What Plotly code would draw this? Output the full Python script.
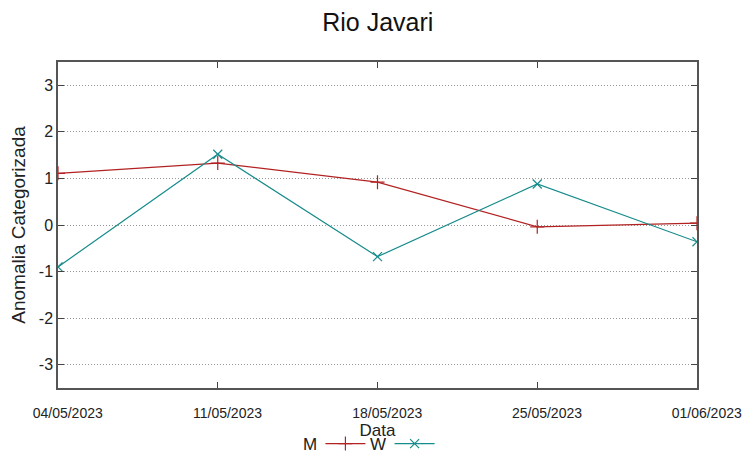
import plotly.graph_objects as go

dates = ["2023-05-04", "2023-05-11", "2023-05-18", "2023-05-25", "2023-06-01"]
tick_labels = ["04/05/2023", "11/05/2023", "18/05/2023", "25/05/2023", "01/06/2023"]
m_values = [1.11, 1.33, 0.92, -0.04, 0.04]
w_values = [-0.90, 1.52, -0.68, 0.88, -0.36]
y_ticks = [-3, -2, -1, 0, 1, 2, 3]
y_tick_labels = ["-3", "-2", "-1", "0", "1", "2", "3"]
series_names = ["M", "W"]

FONT = "Liberation Sans, Arial, sans-serif"
NB = "\u00a0"

fig = go.Figure()
fig.add_trace(go.Scatter(
    x=dates, y=m_values, name=series_names[0], mode="lines+markers",
    line=dict(color="#b22222", width=1.2),
    marker=dict(symbol="cross-thin", size=10, line=dict(color="#b22222", width=1.2)),
))
fig.add_trace(go.Scatter(
    x=dates, y=w_values, name=series_names[1], mode="lines+markers",
    line=dict(color="#168b8b", width=1.2),
    marker=dict(symbol="x-thin", size=9, line=dict(color="#168b8b", width=1.2)),
))

# gnuplot-style key: label text to the left of each sample line
for name, xpos in zip(series_names, [0.3936, 0.5008]):
    fig.add_annotation(text=name, xref="paper", yref="paper", x=xpos, y=-0.172,
                       xanchor="center", yanchor="middle", showarrow=False,
                       font=dict(size=17, family=FONT, color="#222222"))

fig.update_layout(
    width=744, height=450,
    margin=dict(l=50, r=55, t=54, b=70, autoexpand=False),
    paper_bgcolor="white", plot_bgcolor="white",
    font=dict(family=FONT, color="#222222"),
    title=dict(text="Rio Javari", x=0.497, xanchor="center", y=0.969, yanchor="middle",
               font=dict(size=25, family=FONT, color="#111111")),
    legend=dict(orientation="h", x=0.521, xanchor="center", y=-0.172, yanchor="middle",
                font=dict(size=17, family=FONT, color="rgba(0,0,0,0)"), itemwidth=40,
                bgcolor="rgba(0,0,0,0)", tracegroupgap=0),
    showlegend=True,
)

fig.update_xaxes(
    type="date", range=[dates[0], dates[-1]],
    tickvals=dates, ticktext=[NB * 5 + t for t in tick_labels],
    tickfont=dict(size=14, family=FONT, color="#222222"),
    ticks="inside", ticklen=6, tickcolor="#444444", ticklabelstandoff=11,
    showline=True, linecolor="#555555", linewidth=1.5, mirror="ticks",
    showgrid=False, zeroline=False, automargin=False,
    title=dict(text="Data", font=dict(size=17, family=FONT), standoff=0),
)
fig.update_yaxes(
    range=[-3.5, 3.5], tickvals=y_ticks, ticktext=y_tick_labels,
    tickfont=dict(size=16, family=FONT, color="#222222"),
    ticks="inside", ticklen=6, tickcolor="#444444",
    showline=True, linecolor="#555555", linewidth=1.5, mirror="ticks",
    showgrid=True, gridcolor="#999999", griddash="1px,2px", gridwidth=1,
    zeroline=False, automargin=False,
    title=dict(text="Anomalia Categorizada" + NB * 3, font=dict(size=19, family=FONT), standoff=13),
)

fig.write_html("out.html")
